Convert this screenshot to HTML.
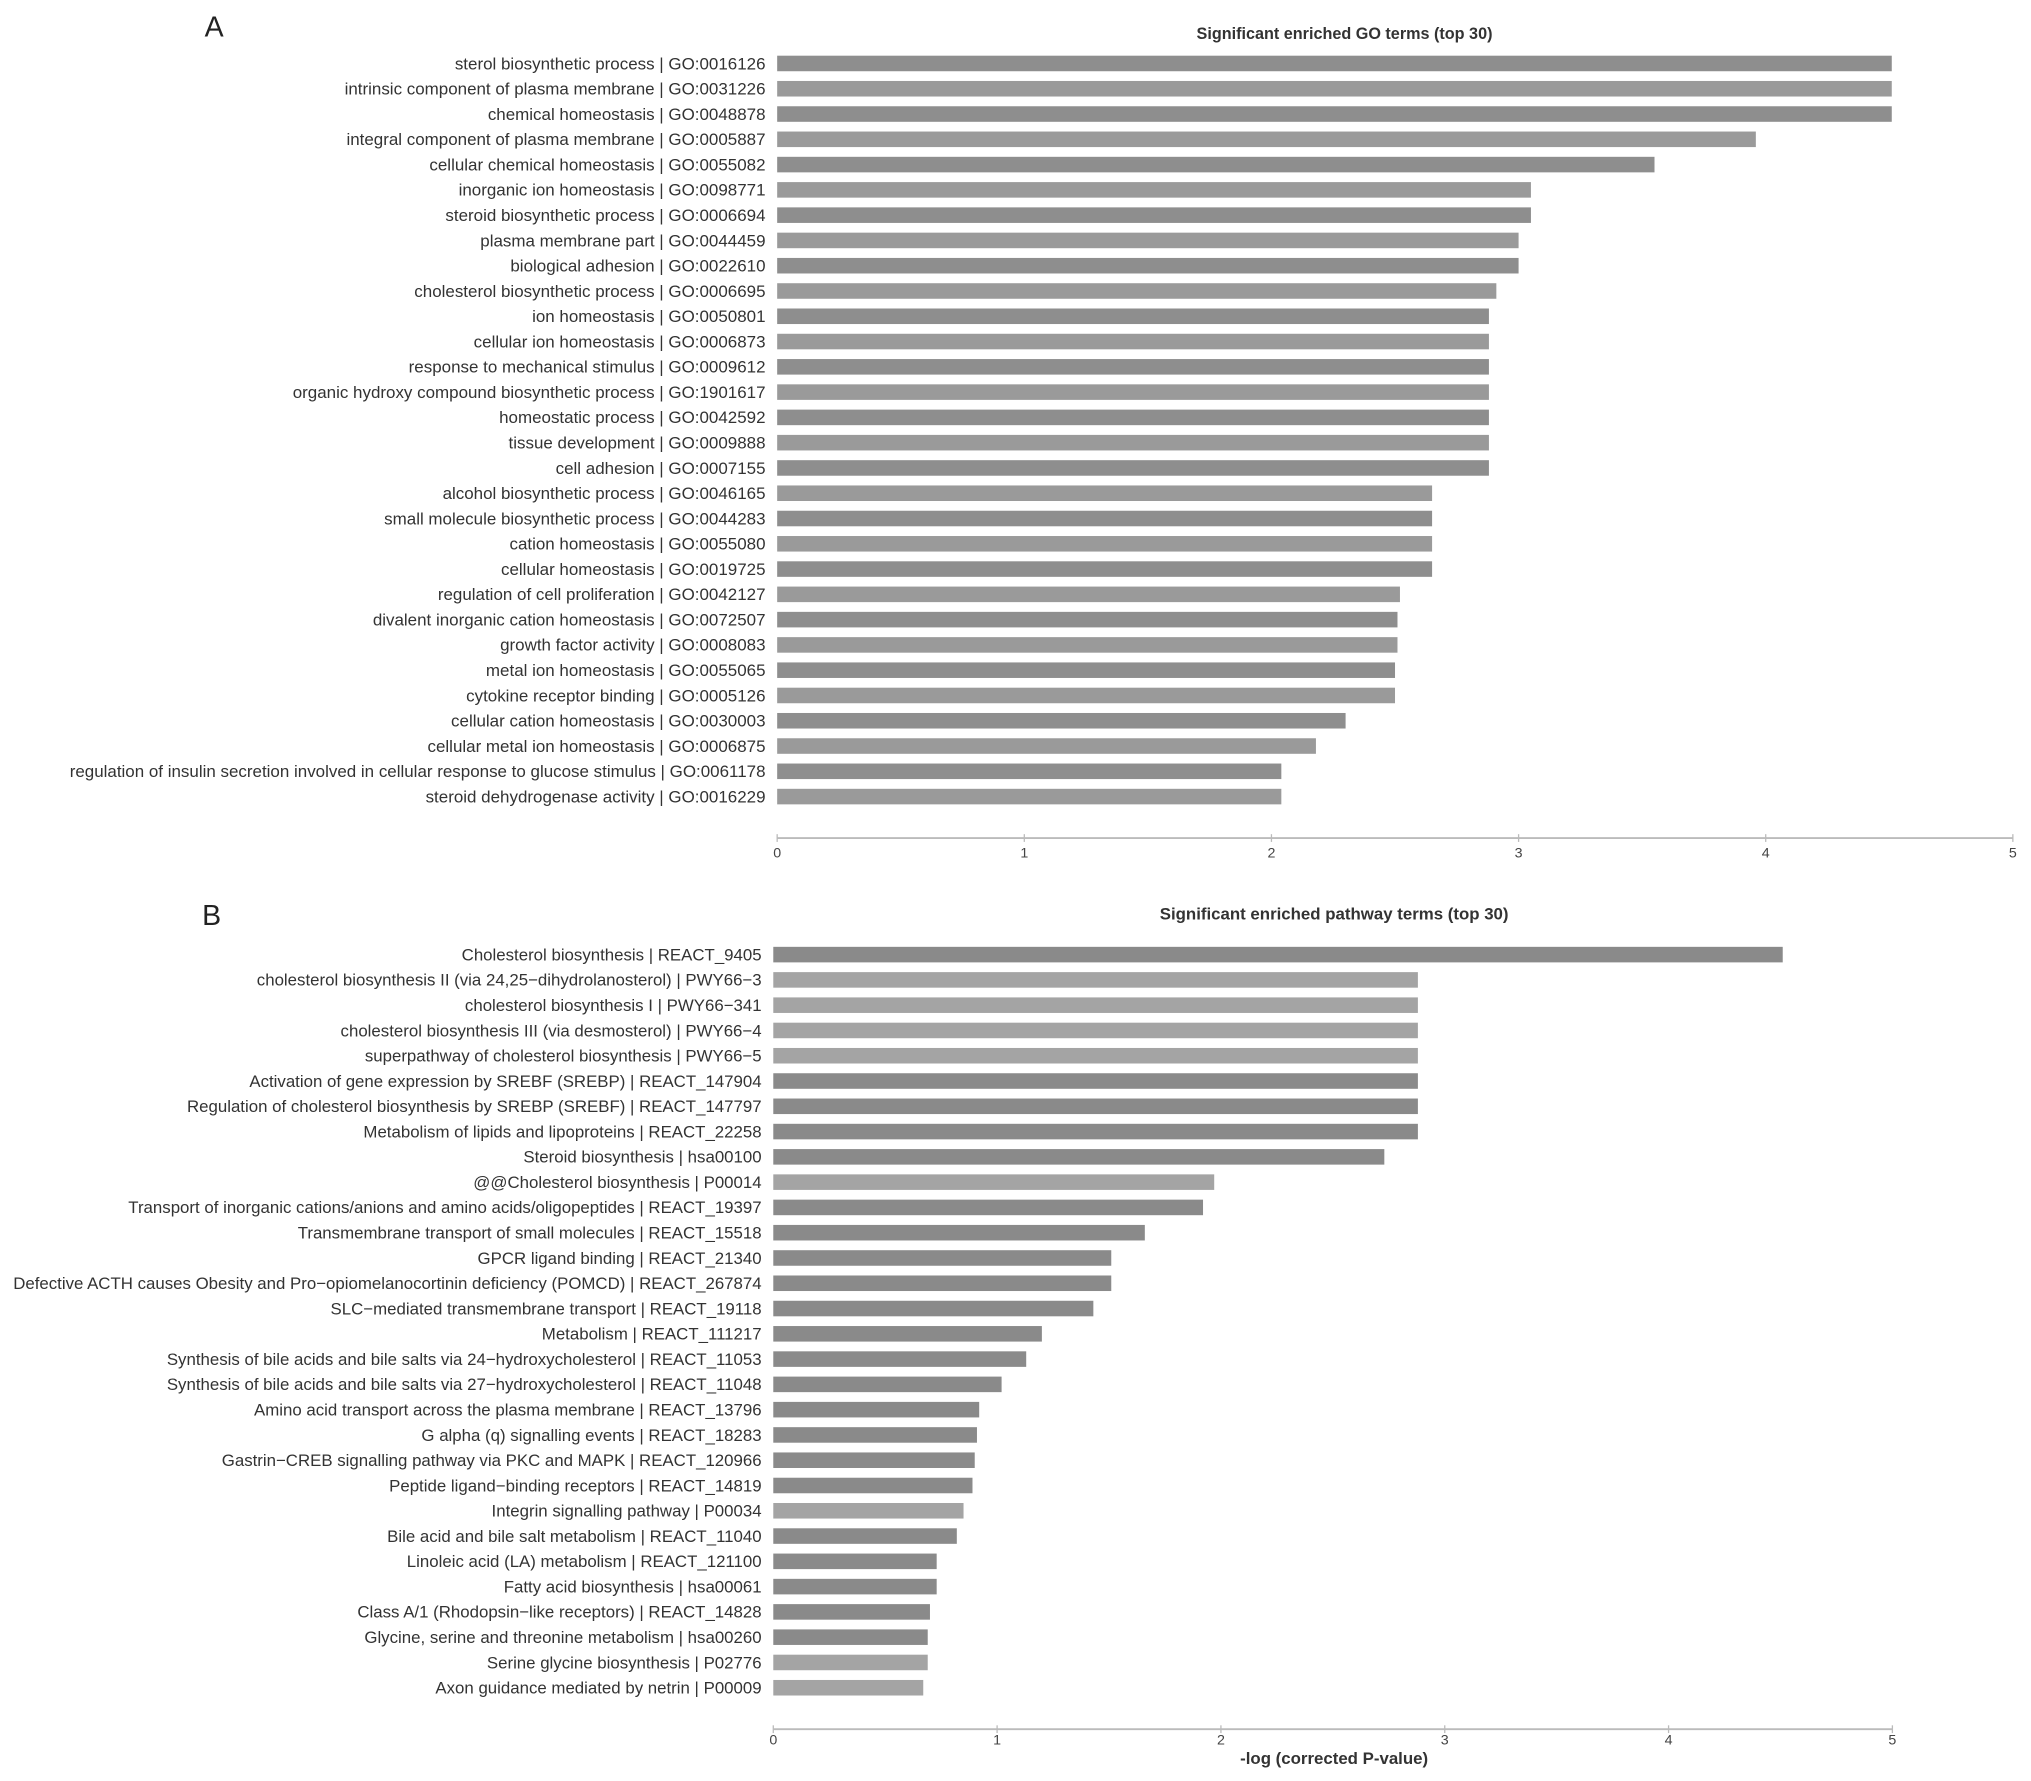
<!DOCTYPE html>
<html><head><meta charset="utf-8"><style>
html,body{margin:0;padding:0;background:#fff;}
svg{display:block;font-family:"Liberation Sans",Arial,sans-serif;}
</style></head><body>
<svg id="chart" width="2031" height="1781" viewBox="0 0 1568 1375" xmlns="http://www.w3.org/2000/svg">
<text x="158" y="28" font-size="22" fill="#222">A</text>
<text x="1038" y="30" font-size="12.5" font-weight="bold" text-anchor="middle" fill="#333">Significant enriched GO terms (top 30)</text>
<text x="156" y="714" font-size="22" fill="#222">B</text>
<text x="1030" y="710" font-size="13" font-weight="bold" text-anchor="middle" fill="#333">Significant enriched pathway terms (top 30)</text>
<text x="1030" y="1362" font-size="13" font-weight="bold" text-anchor="middle" fill="#333">-log (corrected P-value)</text>
<g id="ga"></g><g id="gb"></g>
</svg>
<script>
const goTerms=["sterol biosynthetic process | GO:0016126","intrinsic component of plasma membrane | GO:0031226","chemical homeostasis | GO:0048878","integral component of plasma membrane | GO:0005887","cellular chemical homeostasis | GO:0055082","inorganic ion homeostasis | GO:0098771","steroid biosynthetic process | GO:0006694","plasma membrane part | GO:0044459","biological adhesion | GO:0022610","cholesterol biosynthetic process | GO:0006695","ion homeostasis | GO:0050801","cellular ion homeostasis | GO:0006873","response to mechanical stimulus | GO:0009612","organic hydroxy compound biosynthetic process | GO:1901617","homeostatic process | GO:0042592","tissue development | GO:0009888","cell adhesion | GO:0007155","alcohol biosynthetic process | GO:0046165","small molecule biosynthetic process | GO:0044283","cation homeostasis | GO:0055080","cellular homeostasis | GO:0019725","regulation of cell proliferation | GO:0042127","divalent inorganic cation homeostasis | GO:0072507","growth factor activity | GO:0008083","metal ion homeostasis | GO:0055065","cytokine receptor binding | GO:0005126","cellular cation homeostasis | GO:0030003","cellular metal ion homeostasis | GO:0006875","regulation of insulin secretion involved in cellular response to glucose stimulus | GO:0061178","steroid dehydrogenase activity | GO:0016229"];
const goValues=[4.51,4.51,4.51,3.96,3.55,3.05,3.05,3.0,3.0,2.91,2.88,2.88,2.88,2.88,2.88,2.88,2.88,2.65,2.65,2.65,2.65,2.52,2.51,2.51,2.50,2.50,2.30,2.18,2.04,2.04];
const pwTerms=["Cholesterol biosynthesis | REACT_9405","cholesterol biosynthesis II (via 24,25\u2212dihydrolanosterol) | PWY66\u22123","cholesterol biosynthesis I | PWY66\u2212341","cholesterol biosynthesis III (via desmosterol) | PWY66\u22124","superpathway of cholesterol biosynthesis | PWY66\u22125","Activation of gene expression by SREBF (SREBP) | REACT_147904","Regulation of cholesterol biosynthesis by SREBP (SREBF) | REACT_147797","Metabolism of lipids and lipoproteins | REACT_22258","Steroid biosynthesis | hsa00100","@@Cholesterol biosynthesis | P00014","Transport of inorganic cations/anions and amino acids/oligopeptides | REACT_19397","Transmembrane transport of small molecules | REACT_15518","GPCR ligand binding | REACT_21340","Defective ACTH causes Obesity and Pro\u2212opiomelanocortinin deficiency (POMCD) | REACT_267874","SLC\u2212mediated transmembrane transport | REACT_19118","Metabolism | REACT_111217","Synthesis of bile acids and bile salts via 24\u2212hydroxycholesterol | REACT_11053","Synthesis of bile acids and bile salts via 27\u2212hydroxycholesterol | REACT_11048","Amino acid transport across the plasma membrane | REACT_13796","G alpha (q) signalling events | REACT_18283","Gastrin\u2212CREB signalling pathway via PKC and MAPK | REACT_120966","Peptide ligand\u2212binding receptors | REACT_14819","Integrin signalling pathway | P00034","Bile acid and bile salt metabolism | REACT_11040","Linoleic acid (LA) metabolism | REACT_121100","Fatty acid biosynthesis | hsa00061","Class A/1 (Rhodopsin\u2212like receptors) | REACT_14828","Glycine, serine and threonine metabolism | hsa00260","Serine glycine biosynthesis | P02776","Axon guidance mediated by netrin | P00009"];
const pwValues=[4.51,2.88,2.88,2.88,2.88,2.88,2.88,2.88,2.73,1.97,1.92,1.66,1.51,1.51,1.43,1.20,1.13,1.02,0.92,0.91,0.90,0.89,0.85,0.82,0.73,0.73,0.70,0.69,0.69,0.67];
const tickLabels=["0","1","2","3","4","5"];
const NS="http://www.w3.org/2000/svg";
function mk(tag,attrs,parent){const e=document.createElementNS(NS,tag);for(const k in attrs)e.setAttribute(k,attrs[k]);parent.appendChild(e);return e;}
function panel(g,terms,vals,x0,x5,y0,y1,axisY,tickY,prefix,colorFn,fs){
  const xs=v=>x0+(x5-x0)*v/5;
  const step=(y1-y0)/(terms.length-1);
  const ys=i=>y0+i*step;
  terms.forEach((t,i)=>{
    const r=mk('rect',{x:xs(0),y:ys(i)-6,width:xs(vals[i])-xs(0),height:12,fill:colorFn(t,i)},g);
    
    
    const tx=mk('text',{x:x0-9,y:ys(i)+4.5,'font-size':fs,'text-anchor':'end',fill:'#333'},g);
    tx.textContent=t;
    
    
  });
  const ax=mk('line',{x1:xs(0),x2:xs(5),y1:axisY,y2:axisY,stroke:'#bbb','stroke-width':1.5},g);
  
  
  tickLabels.forEach((l,i)=>{
    const v=+l;
    mk('line',{x1:xs(v),x2:xs(v),y1:axisY-3,y2:axisY+3,stroke:'#bbb'},g);
    const tt=mk('text',{x:xs(v),y:tickY,'font-size':'11','text-anchor':'middle',fill:'#444'},g);
    tt.textContent=l;
    
    
  });
}
panel(document.getElementById('ga'),goTerms,goValues,600,1554,49,615,647,662,'go',(t,i)=>i%2?'#9a9a9a':'#8e8e8e','13.1');
panel(document.getElementById('gb'),pwTerms,pwValues,597,1461,737,1303,1335,1347,'pathway',(t)=>/PWY|P0\d|@@/.test(t)?'#a4a4a4':'#8a8a8a','13');
</script>
</body></html>
